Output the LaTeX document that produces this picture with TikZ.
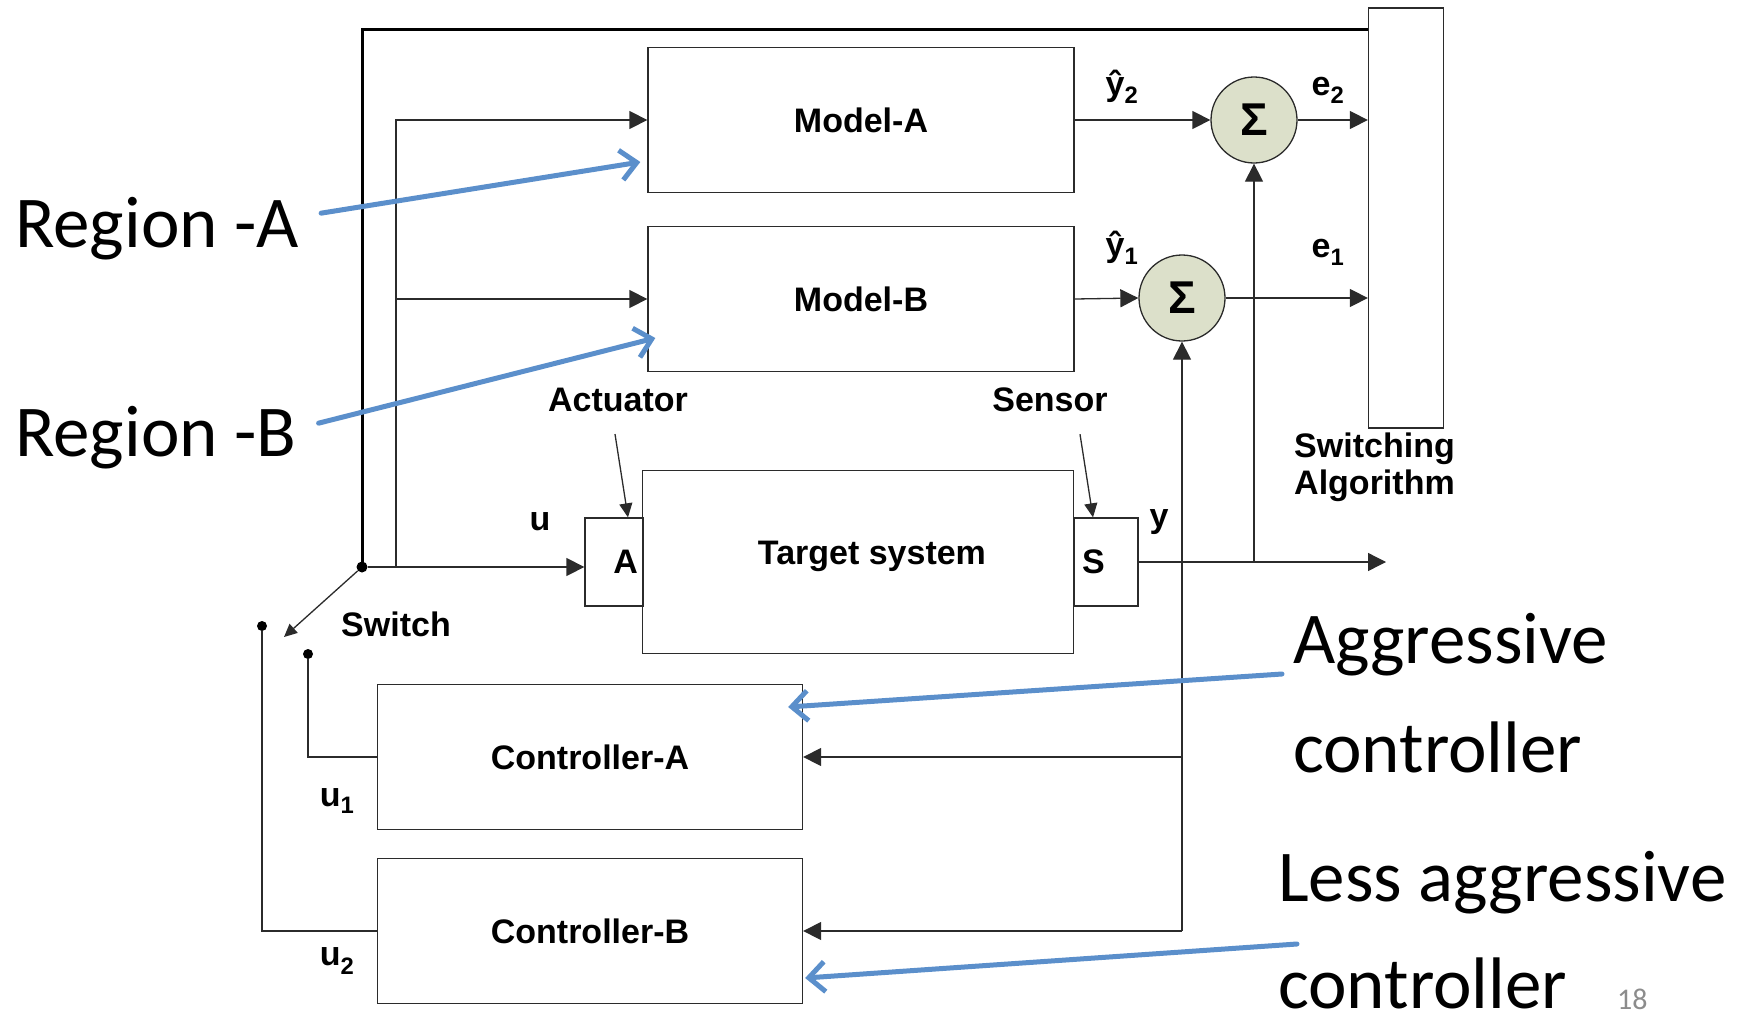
\documentclass[tikz,border=0pt]{standalone}
\usepackage{fontspec}
\setmainfont{Liberation Sans}
\newfontfamily\calib{Carlito}
\usepackage{tikz}
\usetikzlibrary{positioning,calc,arrows.meta}
\definecolor{NoteBlue}{HTML}{5B8FCB}
\definecolor{SumFill}{HTML}{DCE0CA}
\definecolor{PageGray}{HTML}{8C8C8C}
\definecolor{LineDark}{HTML}{2B2B2B}

\begin{document}
\begin{tikzpicture}[x=1pt,y=-1pt,font=\fontsize{34}{37}\selectfont\bfseries,
  blk/.style={draw=LineDark,line width=1.3pt,minimum width=426pt,minimum height=145pt},
  sumc/.style={circle,draw=LineDark,line width=1.3pt,fill=SumFill,minimum size=86pt,inner sep=0pt,
               font=\fontsize{46}{46}\selectfont\bfseries},
  sig/.style={-{Triangle[length=18pt,width=18pt]},line width=1.3pt,draw=LineDark},
  wire/.style={line width=1.3pt,draw=LineDark},
  dot/.style={circle,fill,inner sep=0pt,minimum size=11pt},
  lbl/.style={inner sep=1pt},
  big/.style={font=\normalfont\calib\fontsize{73}{73}\selectfont,anchor=base west,inner sep=0pt},
  note/.style={-{Straight Barb[length=16pt,width=30pt]},line width=5pt,line cap=round,draw=NoteBlue}]
\useasboundingbox (0,0) rectangle (1753,1017);
\foreach \nm/\lbl/\yy in {modA/{Model-A}/120, modB/{Model-B}/299} {
  \node[blk] (\nm) at (861,\yy) {\lbl};
}
\foreach \nm/\lbl/\yy in {ctrlA/{Controller-A}/757, ctrlB/{Controller-B}/931} {
  \node[blk,minimum width=425pt] (\nm) at (590,\yy) {\lbl};
}
\node[blk,minimum width=431pt,minimum height=183pt,
      label={[lbl,xshift=14pt,yshift=6pt]center:Target system}] (tgt) at (858,562) {};
\node[blk,minimum width=58pt,minimum height=88pt,inner xsep=2pt,text width=48pt,align=right] (act) at (614,562) {A};
\node[blk,minimum width=64pt,minimum height=88pt,inner xsep=2pt,text width=48pt,align=left] (sen) at (1106,562) {S};
\node[blk,minimum width=75pt,minimum height=420pt] (swalg) at (1406,218) {};
\node[sumc] (sig2) at (1254,120) {Σ};
\node[sumc] (sig1) at (1182,298) {Σ};

\node[dot] (pv) at (362,567) {};
\node[dot,minimum size=10pt] (sw2) at (262,626) {};
\node[dot,minimum size=10pt] (sw1) at (308,654) {};
\coordinate (br) at (396,567);
\coordinate (swtip) at (284,637);
\coordinate (yend) at (1386,562);

\node[lbl] (yh2) at (1122,87) {ŷ\textsubscript{2}};
\node[lbl] (yh1) at (1122,248) {ŷ\textsubscript{1}};
\node[lbl] (e2l) at (1328,90) {e\textsubscript{2}};
\node[lbl] (e1l) at (1328,252) {e\textsubscript{1}};
\node[lbl] (ul) at (540,522) {u};
\node[lbl] (yl) at (1159,522) {y};
\node[lbl] (u1l) at (337,801) {u\textsubscript{1}};
\node[lbl] (u2l) at (337,961) {u\textsubscript{2}};
\node[lbl] (swl) at (396,624) {Switch};
\node[lbl] (actl) at (618,400) {Actuator};
\node[lbl] (senl) at (1050,400) {Sensor};
\node[lbl,anchor=west,align=left] (swtxt) at (1293,467) {Switching\\Algorithm};

\draw[line width=3pt] (pv.center) |- ([yshift=-22pt]swalg.north west);
\draw[sig] (pv) -- (pv -| act.west);
\draw[sig] (br) |- (modA.west);
\draw[sig] (br |- modB.west) -- (modB.west);
\draw[sig] (modA.east) -- (sig2.west);
\draw[sig] (modB.east) -- (sig1.west);
\draw[sig] (sig2.east) -- (sig2 -| swalg.west);
\draw[sig] (sig1.east) -- (sig1 -| swalg.west);
\draw[sig] (sen.east) -- (yend);
\draw[sig] (sig2 |- yend) -- (sig2.south);
\draw[sig] (sig1 |- ctrlB.east) -- (sig1.south);
\draw[sig] (sig1 |- ctrlA.east) -- (ctrlA.east);
\draw[sig] (sig1 |- ctrlB.east) -- (ctrlB.east);
\draw[wire] (sw1) |- (ctrlA.west);
\draw[wire] (sw2) |- (ctrlB.west);
\draw[wire,-{Triangle[length=13pt,width=12pt]}] (pv) -- (swtip);
\draw[wire,-{Triangle[length=14pt,width=13pt]}] ([xshift=-3pt,yshift=-21pt]actl.south) -- ([xshift=14pt]act.north);
\draw[wire,-{Triangle[length=14pt,width=13pt]}] ([xshift=30pt,yshift=-21pt]senl.south) -- ([xshift=-13pt]sen.north);

\node[big] (regA) at (15,247) {Region -A};
\node[big] (regB) at (15,456) {Region -B};
\node[big] (aggr1) at (1293,663) {Aggressive};
\node[big] (aggr2) at (1293,772) {controller};
\node[big] (less1) at (1278,901) {Less aggressive};
\node[big] (less2) at (1278,1008) {controller};
\node[big,font=\normalfont\calib\fontsize{30}{30}\selectfont,text=PageGray] (pg) at (1617,1009) {18};

\draw[note] ([xshift=22pt,yshift=15pt]regA.east) -- ([xshift=-7pt,yshift=-42pt]modA.west);
\draw[note] ([xshift=22pt,yshift=14pt]regB.east) -- ([xshift=8pt,yshift=-39pt]modB.west);
\draw[note] ([xshift=-11pt,yshift=-11pt]aggr1.base west) -- ([xshift=-15pt,yshift=50pt]ctrlA.east);
\draw[note] ([xshift=19pt,yshift=-43pt]less1.base west) -- ([xshift=2pt,yshift=-47pt]ctrlB.east);
\end{tikzpicture}
\end{document}
